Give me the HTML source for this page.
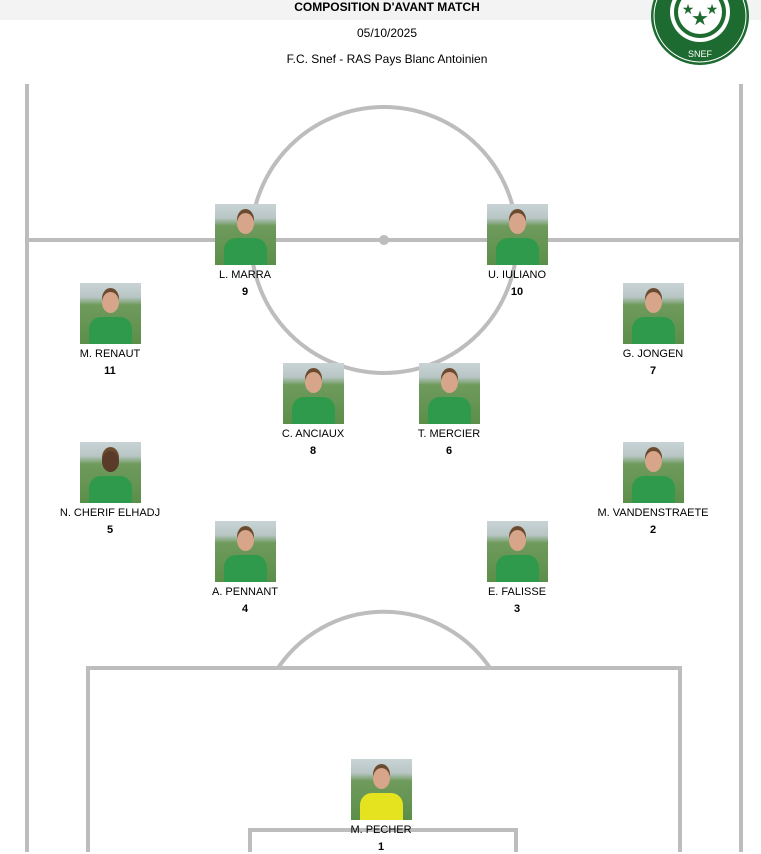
<!DOCTYPE html>
<html><head><meta charset="utf-8"><style>
html,body{margin:0;padding:0;background:#fff;}
body{width:761px;height:852px;position:relative;overflow:hidden;font-family:"Liberation Sans",Arial,sans-serif;color:#000;}
.bar{position:absolute;left:0;top:0;width:761px;height:20px;background:#f3f3f3;}
.t{position:absolute;left:0;width:774px;text-align:center;font-size:12px;}
.p{position:absolute;width:120px;text-align:center;font-size:11px;}
.ph{width:61px;height:61px;margin:0 auto;background:linear-gradient(#c9d3d6 0,#b8c6c4 14px,#6f9a5d 22px,#5b8f49 100%);position:relative;overflow:hidden;}
.ph .head{position:absolute;left:22px;top:9px;width:17px;height:21px;border-radius:50%;background:#d6a58a;box-shadow:0 -4px 0 #6b4a30;}
.ph .shirt{position:absolute;left:9px;top:34px;width:43px;height:30px;border-radius:12px 12px 0 0;background:#2f9a4b;}
.ph.y .shirt{background:#e5e220;}
.nm{margin-top:4px;line-height:13px;}
.nb{font-weight:bold;margin-top:4px;line-height:13px;}
</style></head><body>
<div class="bar"></div>
<div class="t" style="top:0;font-weight:bold;line-height:14px;">COMPOSITION D'AVANT MATCH</div>
<div class="t" style="top:26px;line-height:14px">05/10/2025</div>
<div class="t" style="top:52px;line-height:14px">F.C. Snef - RAS Pays Blanc Antoinien</div>
<svg width="761" height="852" style="position:absolute;left:0;top:0">
<g stroke="#bdbdbd" stroke-width="4" fill="none">
<line x1="27" y1="84" x2="27" y2="852"/>
<line x1="741" y1="84" x2="741" y2="852"/>
<line x1="27" y1="240" x2="741" y2="240"/>
<circle cx="384" cy="240" r="133"/>
<path d="M278 668 A128 128 0 0 1 490 668"/>
<rect x="88" y="668" width="592" height="200"/>
<rect x="250" y="830" width="266" height="60"/>
</g>
<circle cx="384" cy="240" r="5" fill="#bdbdbd"/>
<g>
<circle cx="700" cy="16" r="49" fill="#1d6b30"/>
<circle cx="700" cy="16" r="46" fill="none" stroke="#fff" stroke-width="1"/>
<circle cx="700" cy="12" r="30" fill="#fff"/>
<circle cx="700" cy="12" r="26" fill="#1d6b30"/>
<circle cx="700" cy="12" r="22" fill="#fff"/>
<text x="700" y="25" font-size="20" fill="#1d6b30" text-anchor="middle">★</text>
<text x="688" y="14" font-size="14" fill="#1d6b30" text-anchor="middle">★</text>
<text x="712" y="14" font-size="14" fill="#1d6b30" text-anchor="middle">★</text>
<text x="700" y="57" font-size="9" fill="#fff" text-anchor="middle" font-family="Liberation Sans">SNEF</text>
</g>
</svg>
<div class="p" style="left:185px;top:204px"><div class="ph"><div class="head"></div><div class="shirt"></div></div><div class="nm">L. MARRA</div><div class="nb">9</div></div>
<div class="p" style="left:457px;top:204px"><div class="ph"><div class="head"></div><div class="shirt"></div></div><div class="nm">U. IULIANO</div><div class="nb">10</div></div>
<div class="p" style="left:50px;top:283px"><div class="ph"><div class="head"></div><div class="shirt"></div></div><div class="nm">M. RENAUT</div><div class="nb">11</div></div>
<div class="p" style="left:593px;top:283px"><div class="ph"><div class="head"></div><div class="shirt"></div></div><div class="nm">G. JONGEN</div><div class="nb">7</div></div>
<div class="p" style="left:253px;top:363px"><div class="ph"><div class="head"></div><div class="shirt"></div></div><div class="nm">C. ANCIAUX</div><div class="nb">8</div></div>
<div class="p" style="left:389px;top:363px"><div class="ph"><div class="head"></div><div class="shirt"></div></div><div class="nm">T. MERCIER</div><div class="nb">6</div></div>
<div class="p" style="left:50px;top:442px"><div class="ph"><div class="head" style="background:#5a3a28"></div><div class="shirt"></div></div><div class="nm">N. CHERIF ELHADJ</div><div class="nb">5</div></div>
<div class="p" style="left:593px;top:442px"><div class="ph"><div class="head"></div><div class="shirt"></div></div><div class="nm">M. VANDENSTRAETE</div><div class="nb">2</div></div>
<div class="p" style="left:185px;top:521px"><div class="ph"><div class="head"></div><div class="shirt"></div></div><div class="nm">A. PENNANT</div><div class="nb">4</div></div>
<div class="p" style="left:457px;top:521px"><div class="ph"><div class="head"></div><div class="shirt"></div></div><div class="nm">E. FALISSE</div><div class="nb">3</div></div>
<div class="p" style="left:321px;top:759px"><div class="ph y"><div class="head"></div><div class="shirt"></div></div><div class="nm">M. PECHER</div><div class="nb">1</div></div>
</body></html>
